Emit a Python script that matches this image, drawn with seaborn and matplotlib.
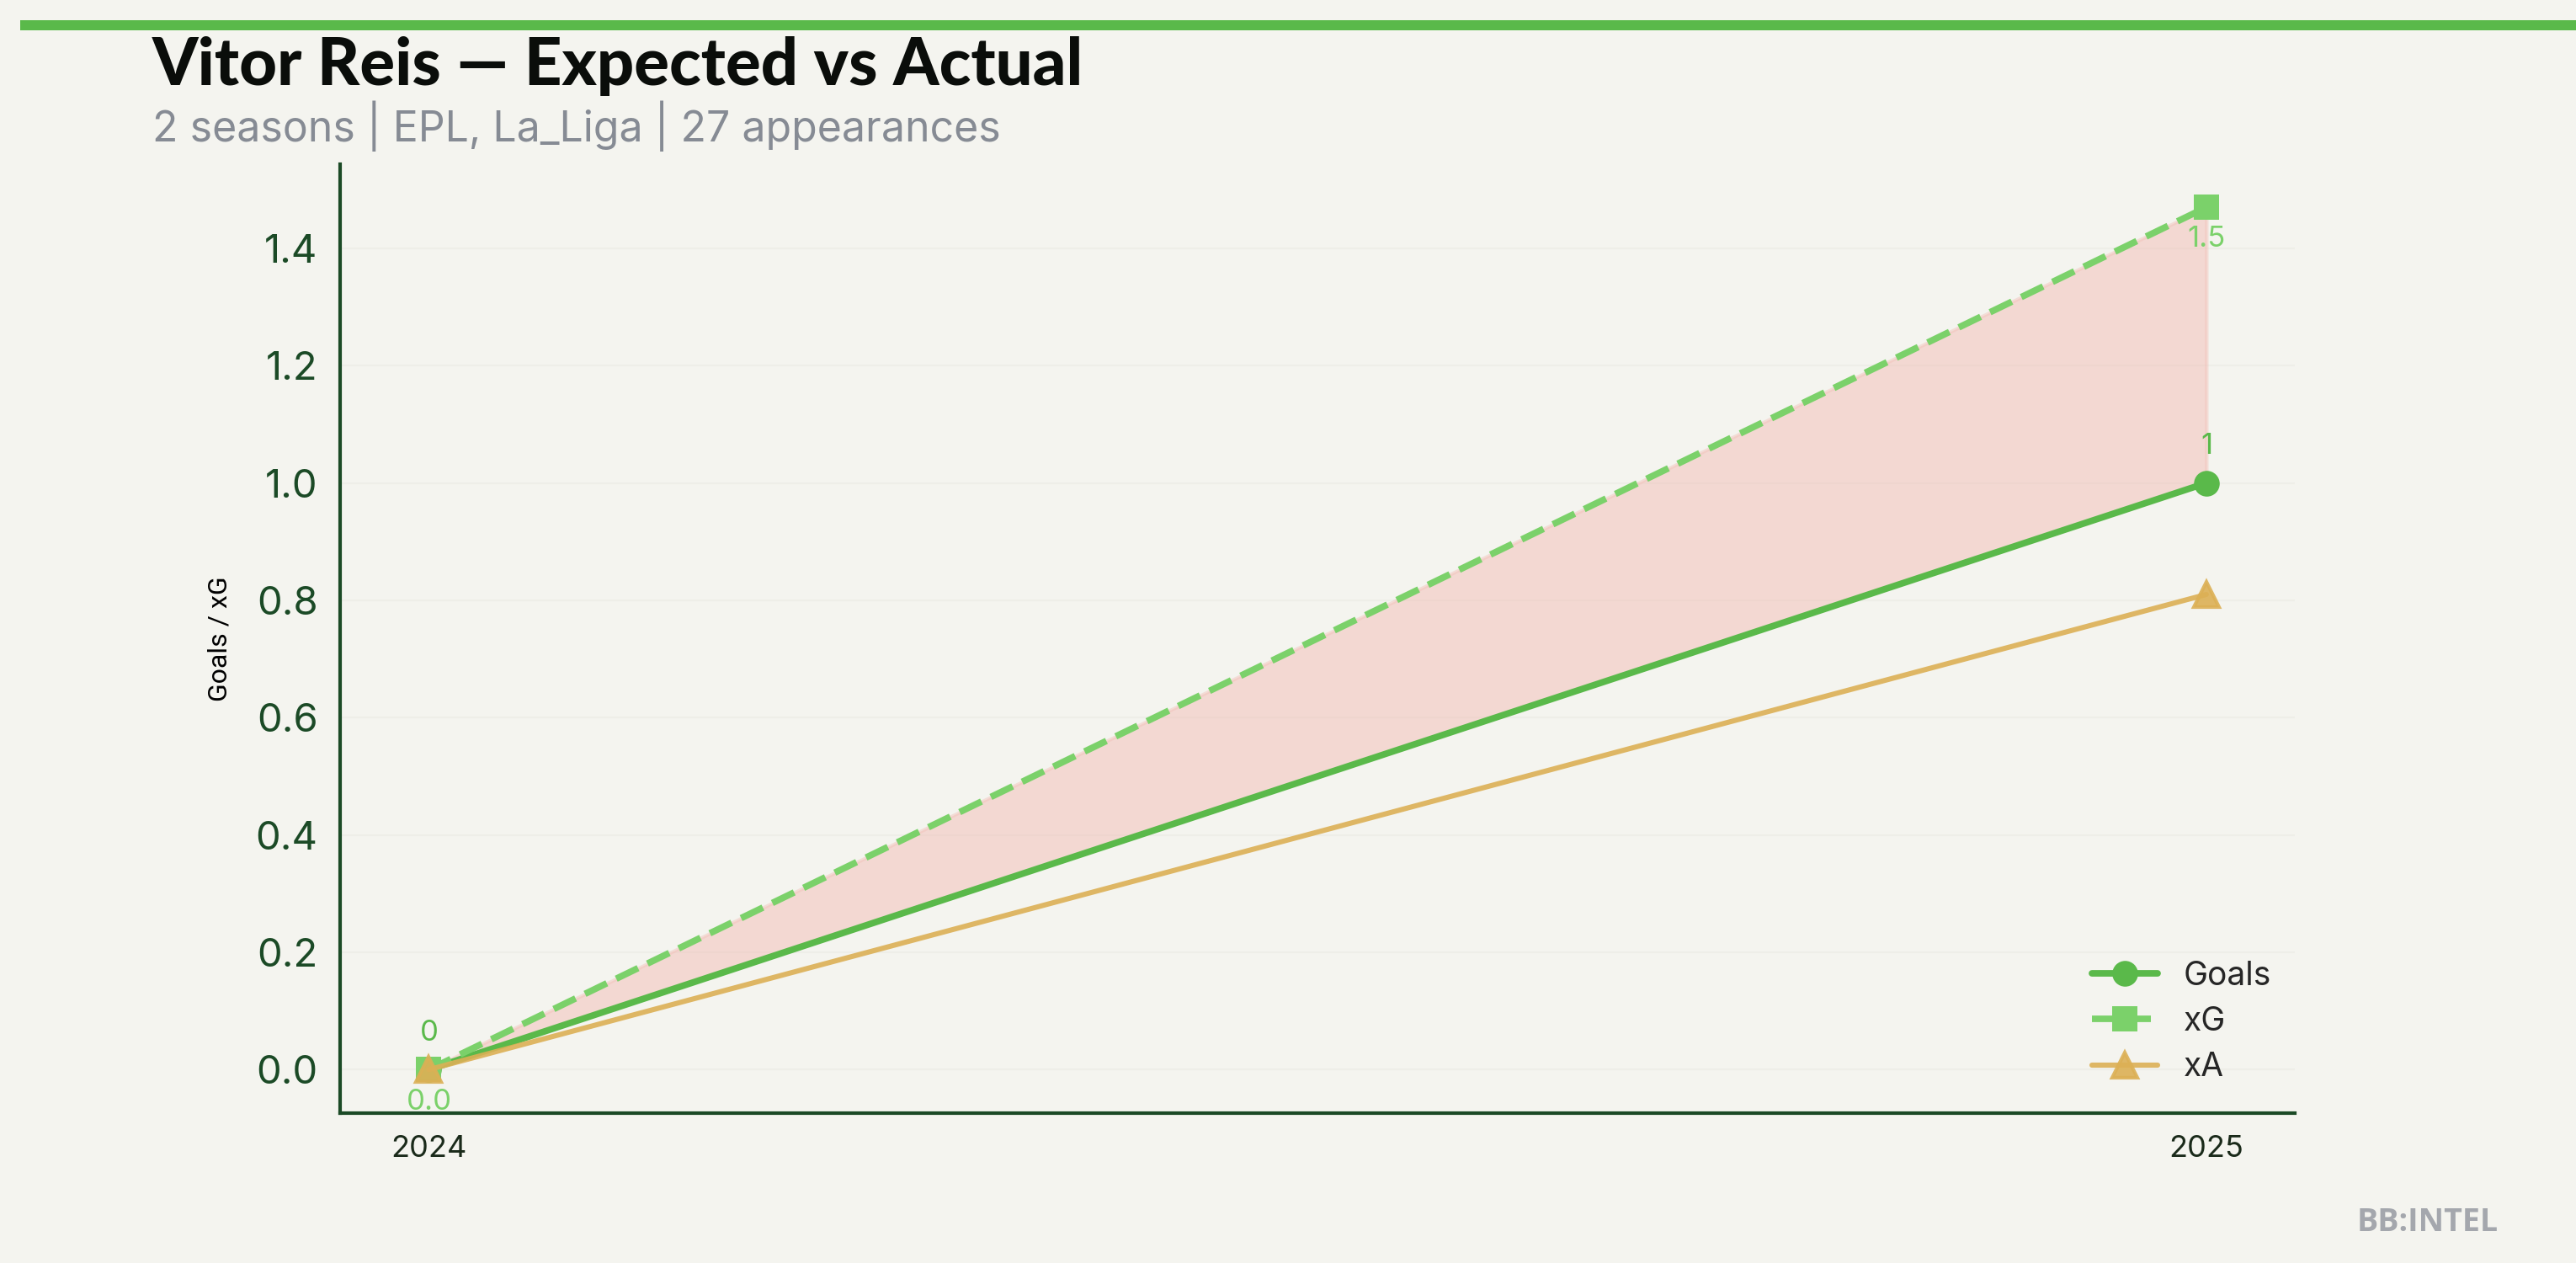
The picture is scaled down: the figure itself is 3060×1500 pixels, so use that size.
import numpy as np
import pandas as pd
import matplotlib.pyplot as plt
import seaborn as sns

# data
seasons = [2024, 2025]
goals = [0, 1]
xg = [0.0, 1.47]
xa = [0.0, 0.81]

title = "Vitor Reis \u2014 Expected vs Actual"
subtitle = "2 seasons | EPL, La_Liga | 27 appearances"

bg = '#f4f4ef'
c_goals = '#5ab94a'
c_xg = '#7bd16a'
c_xa = '#dcb055'

sns.set_theme(style='white')
plt.rcParams['font.family'] = ['Inter', 'DejaVu Sans']
plt.rcParams['figure.facecolor'] = bg
plt.rcParams['axes.facecolor'] = bg

df = pd.DataFrame({'season': seasons, 'Goals': goals, 'xG': xg, 'xA': xa})

fig = plt.figure(figsize=(15.3, 7.5), dpi=200)
ax = fig.add_axes([0.132, 0.119, 0.759, 0.751])

# shaded gap between goals and xG
ax.fill_between(df['season'], df['Goals'], df['xG'], color='#f2b8b0', alpha=0.45,
                linewidth=1.5, edgecolor='#f2c0b8', zorder=1)

sns.lineplot(data=df, x='season', y='Goals', ax=ax, color=c_goals, linewidth=2.8,
             marker='o', markersize=11, markeredgewidth=0, label='Goals', zorder=2)
sns.lineplot(data=df, x='season', y='xG', ax=ax, color=c_xg, linewidth=2.8,
             linestyle='--', marker='s', markersize=11, markeredgewidth=0,
             label='xG', zorder=3)
sns.lineplot(data=df, x='season', y='xA', ax=ax, color=c_xa, linewidth=2.2,
             marker='^', markersize=11, markeredgewidth=1.5, markeredgecolor=c_xa,
             alpha=0.9, label='xA', zorder=4)

# value labels
for s, g in zip(df['season'], df['Goals']):
    ax.annotate(f'{g:g}', (s, g), xytext=(0, 10), textcoords='offset points',
                ha='center', va='bottom', color=c_goals, fontsize=12.5)
for s, v in zip(df['season'], df['xG']):
    ax.annotate(f'{v:.1f}', (s, v), xytext=(0, -8), textcoords='offset points',
                ha='center', va='top', color=c_xg, fontsize=12.5)

ax.set_xticks(seasons)
ax.set_xticklabels([str(s) for s in seasons], fontsize=13, color='#1a2a1a')
ax.tick_params(axis='y', labelsize=17, labelcolor='#1b4a26', length=6, color='#1b4a26',
               width=1.5)
ax.tick_params(axis='x', length=6, color='#1b4a26', width=1.5)
ax.set_yticks(np.arange(0, 1.41, 0.2))
ax.set_xlabel('')
ax.set_ylabel('Goals / xG', fontsize=11.5, color='black', labelpad=10,
              family=['Roboto', 'DejaVu Sans'])
ax.yaxis.grid(True, color='#eeeee8', linewidth=0.8)
ax.set_axisbelow(True)
sns.despine(ax=ax)
for sp in ['left', 'bottom']:
    ax.spines[sp].set_color('#1b4a26')
    ax.spines[sp].set_linewidth(1.5)

leg = ax.legend(loc='lower right', frameon=False, fontsize=14,
                bbox_to_anchor=(1.003, 0.0), handlelength=2.0, labelspacing=0.45)

# header bar, title, subtitle, watermark
fig.patches.append(plt.Rectangle((0.008, 0.976), 0.992, 0.008, transform=fig.transFigure,
                                 color='#5ab94a', linewidth=0))
fig.text(0.059, 0.933, title, fontsize=28, fontweight='black', color='#0a0d0a',
         family=['Lato', 'DejaVu Sans'])
fig.text(0.059, 0.888, subtitle, fontsize=18, color='#868b94')
fig.text(0.97, 0.025, 'BB:INTEL', fontsize=13.5, fontweight='bold', color='#a4a7ad',
         ha='right', family=['Open Sans', 'DejaVu Sans'])

fig.savefig('out.png', dpi=200, facecolor=bg)
